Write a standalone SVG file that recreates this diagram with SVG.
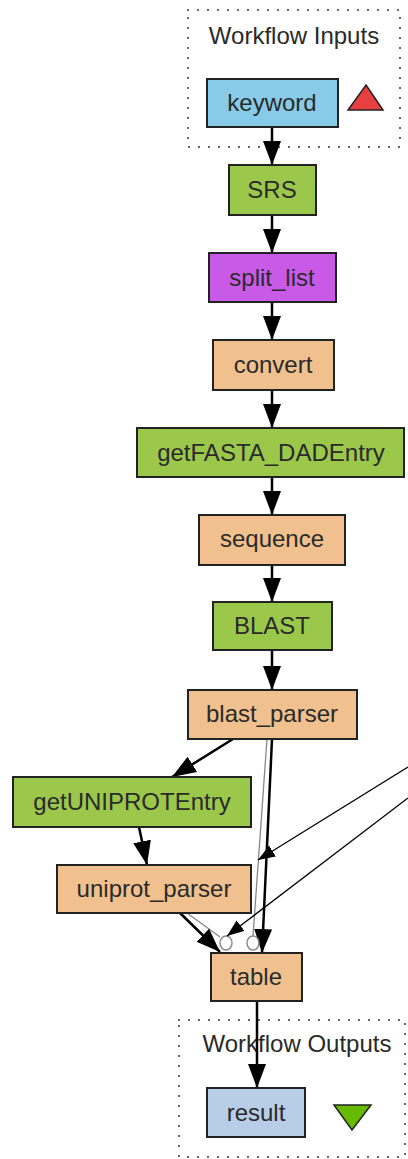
<svg xmlns="http://www.w3.org/2000/svg" width="408" height="1159" viewBox="0 0 408 1159">
<style>
  .n { stroke: #222; stroke-width: 2; }
  .t { font-family: "Liberation Sans", Arial, sans-serif; font-size: 24px; fill: #2a2a2a; text-anchor: middle; }
  .e { stroke: #000; stroke-width: 2.5; fill: none; }
  .thin { stroke: #000; stroke-width: 1.3; fill: none; }
  .g { stroke: #888; stroke-width: 1.3; fill: none; }
  .box { fill: none; stroke: #333; stroke-width: 2; stroke-dasharray: 0 10; stroke-linecap: round; }
  .orange { fill: #F0C18E; }
  .green { fill: #9BC84A; }
</style>
<defs>
  <marker id="ah" markerUnits="userSpaceOnUse" markerWidth="24" markerHeight="20" viewBox="0 0 24 20" refX="24" refY="10" orient="auto">
    <path d="M0,1 L24,10 L0,19 Z" fill="#000"/>
  </marker>
  <marker id="as" markerUnits="userSpaceOnUse" markerWidth="17" markerHeight="14" viewBox="0 0 17 14" refX="17" refY="7" orient="auto">
    <path d="M0,0.5 L17,7 L0,13.5 Z" fill="#000"/>
  </marker>
</defs>

<g id="inputs">
  <rect class="box" x="188" y="10" width="212" height="137"/>
  <text class="t" x="294" y="44">Workflow Inputs</text>
</g>
<g id="outputs">
  <rect class="box" x="179" y="1020" width="226" height="137"/>
  <text class="t" x="297" y="1052">Workflow Outputs</text>
</g>

<g id="connectors">
  <line class="e" x1="272" y1="127" x2="272" y2="165" marker-end="url(#ah)"/>
  <line class="e" x1="272" y1="215" x2="272" y2="253" marker-end="url(#ah)"/>
  <line class="e" x1="272" y1="302" x2="272" y2="340" marker-end="url(#ah)"/>
  <line class="e" x1="272" y1="390" x2="272" y2="428" marker-end="url(#ah)"/>
  <line class="e" x1="272" y1="477" x2="272" y2="515" marker-end="url(#ah)"/>
  <line class="e" x1="272" y1="565" x2="272" y2="602" marker-end="url(#ah)"/>
  <line class="e" x1="272" y1="650" x2="272" y2="690" marker-end="url(#ah)"/>
  <line class="e" x1="233" y1="739" x2="172" y2="777" marker-end="url(#ah)"/>
  <line class="e" x1="139" y1="827" x2="147" y2="865" marker-end="url(#ah)"/>
  <line class="g" x1="267" y1="739" x2="253" y2="936"/>
  <line class="e" x1="272" y1="739" x2="262" y2="953" marker-end="url(#ah)"/>
  <line class="g" x1="187" y1="913" x2="220" y2="937"/>
  <line class="e" x1="180" y1="913" x2="220" y2="952" marker-end="url(#ah)"/>
  <ellipse cx="226" cy="943" rx="6" ry="7" fill="none" stroke="#888" stroke-width="1.4"/>
  <ellipse cx="253" cy="943" rx="6" ry="7" fill="none" stroke="#888" stroke-width="1.4"/>
  <line class="thin" x1="408" y1="767" x2="258" y2="860" marker-end="url(#as)"/>
  <line class="thin" x1="408" y1="798" x2="227" y2="936" marker-end="url(#as)"/>
  <line class="e" x1="257" y1="1001" x2="257" y2="1088" marker-end="url(#ah)"/>
</g>

<g id="keyword">
  <rect class="n" x="207" y="79" width="131" height="48" fill="#87CBE8"/>
  <text class="t" x="272" y="111">keyword</text>
  <path d="M366,85 L383,110 L348,110 Z" fill="#E84040" stroke="#222" stroke-width="1.5"/>
</g>
<g id="SRS">
  <rect class="n green" x="229" y="165" width="87" height="50"/>
  <text class="t" x="272" y="198">SRS</text>
</g>
<g id="split_list">
  <rect class="n" x="209" y="253" width="127" height="49" fill="#C95AE8"/>
  <text class="t" x="272" y="286">split_list</text>
</g>
<g id="convert">
  <rect class="n orange" x="213" y="340" width="121" height="50"/>
  <text class="t" x="273" y="373">convert</text>
</g>
<g id="getFASTA_DADEntry">
  <rect class="n green" x="137" y="428" width="267" height="49"/>
  <text class="t" x="271" y="461">getFASTA_DADEntry</text>
</g>
<g id="sequence">
  <rect class="n orange" x="199" y="515" width="146" height="50"/>
  <text class="t" x="272" y="547">sequence</text>
</g>
<g id="BLAST">
  <rect class="n green" x="213" y="602" width="119" height="48"/>
  <text class="t" x="272" y="634">BLAST</text>
</g>
<g id="blast_parser">
  <rect class="n orange" x="188" y="690" width="169" height="49"/>
  <text class="t" x="272" y="722">blast_parser</text>
</g>
<g id="getUNIPROTEntry">
  <rect class="n green" x="13" y="777" width="238" height="50"/>
  <text class="t" x="132" y="810">getUNIPROTEntry</text>
</g>
<g id="uniprot_parser">
  <rect class="n orange" x="57" y="865" width="194" height="48"/>
  <text class="t" x="154" y="897">uniprot_parser</text>
</g>
<g id="table">
  <rect class="n orange" x="211" y="953" width="91" height="48"/>
  <text class="t" x="256" y="985">table</text>
</g>
<g id="result">
  <rect class="n" x="207" y="1088" width="98" height="49" fill="#B8CDE8"/>
  <text class="t" x="256" y="1121">result</text>
  <path d="M334,1105 L371,1105 L352,1130 Z" fill="#66BB00" stroke="#222" stroke-width="1.5"/>
</g>
</svg>
